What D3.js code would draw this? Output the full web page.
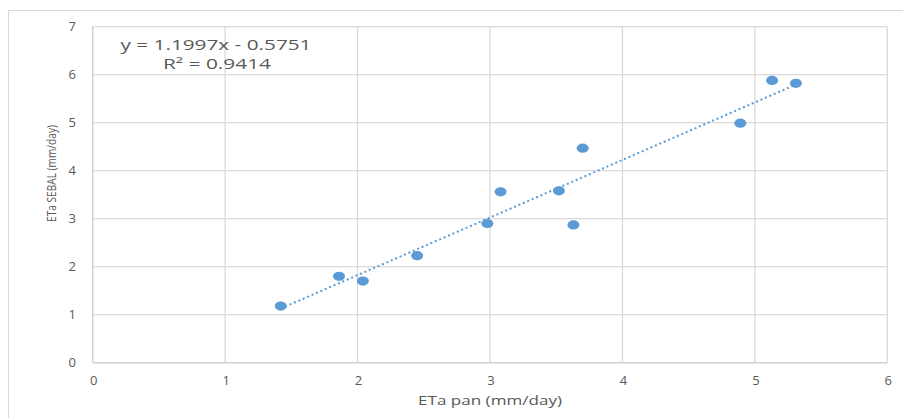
<!DOCTYPE html>
<html><head><meta charset="utf-8">
<script src="https://cdn.jsdelivr.net/npm/d3@7/dist/d3.min.js"></script>
<style>body{margin:0;background:#fff}svg{display:block}text{font-family:"Open Sans",sans-serif;fill:#595959}</style>
</head><body><svg id="c" width="903" height="418"></svg>
<script>
const etaPan   = [1.42, 1.86, 2.04, 2.45, 2.98, 3.08, 3.52, 3.63, 3.70, 4.89, 5.13, 5.31];
const etaSebal = [1.18, 1.80, 1.70, 2.23, 2.90, 3.56, 3.58, 2.87, 4.47, 4.99, 5.88, 5.82];
const xTicks = [0, 1, 2, 3, 4, 5, 6];
const yTicks = [0, 1, 2, 3, 4, 5, 6, 7];
const slope = 1.1997, intercept = -0.5751;
const eqLabel = "y = 1.1997x - 0.5751";
const r2Label = "R² = 0.9414";
const xTitle = "ETa pan (mm/day)";
const yTitle = "ETa SEBAL (mm/day)";

const svg = d3.select("#c");
svg.append("rect").attr("x",8.5).attr("y",10.5).attr("width",1000).attr("height",1000)
  .attr("fill","#fff").attr("stroke","#d9d9d9");

const x = d3.scaleLinear().domain([0,6]).range([92.7,887.3]);
const y = d3.scaleLinear().domain([0,7]).range([362.7,26.7]);

const g = svg.append("g");
g.selectAll("line.v").data(xTicks.slice(1)).join("line")
  .attr("x1",d=>x(d)).attr("x2",d=>x(d)).attr("y1",y(0)).attr("y2",y(7))
  .attr("stroke","#d9d9d9").attr("stroke-width",1.3);
g.selectAll("line.h").data(yTicks.slice(1)).join("line")
  .attr("x1",x(0)).attr("x2",x(6)).attr("y1",d=>y(d)).attr("y2",d=>y(d))
  .attr("stroke","#d9d9d9").attr("stroke-width",1.3);
g.append("line").attr("x1",x(0)).attr("x2",x(0)).attr("y1",y(0)).attr("y2",y(7)).attr("stroke","#cfcfcf").attr("stroke-width",1.5);
g.append("line").attr("x1",x(0)).attr("x2",x(6)).attr("y1",y(0)).attr("y2",y(0)).attr("stroke","#cfcfcf").attr("stroke-width",1.5);

svg.selectAll("text.xt").data(xTicks).join("text")
  .attr("x",d=>x(d)+1).attr("y",385).attr("text-anchor","middle").attr("font-size",13).text(d=>d);
svg.selectAll("text.yt").data(yTicks).join("text")
  .attr("x",76).attr("y",d=>y(d)+4.5).attr("text-anchor","end").attr("font-size",13).text(d=>d);

svg.append("text").attr("x",490).attr("y",405).attr("text-anchor","middle").attr("font-size",13)
  .attr("textLength",144).attr("lengthAdjust","spacingAndGlyphs").text(xTitle);
svg.append("text").attr("transform","translate(56,173.5) rotate(-90)").attr("text-anchor","middle")
  .attr("font-size",12.5).attr("textLength",97).attr("lengthAdjust","spacingAndGlyphs").text(yTitle);

const xmin = d3.min(etaPan), xmax = d3.max(etaPan);
svg.append("line").attr("x1",x(xmin)).attr("y1",y(slope*xmin+intercept))
  .attr("x2",x(xmax)).attr("y2",y(slope*xmax+intercept))
  .attr("stroke","#5B9BD5").attr("stroke-width",2).attr("stroke-dasharray","2,2.8");

svg.selectAll("ellipse").data(etaPan.map((v,i)=>[v,etaSebal[i]])).join("ellipse")
  .attr("cx",d=>x(d[0])).attr("cy",d=>y(d[1])).attr("rx",6).attr("ry",4.6).attr("fill","#5B9BD5");

svg.append("text").attr("x",216).attr("y",50).attr("text-anchor","middle").attr("font-size",14)
  .attr("textLength",191).attr("lengthAdjust","spacingAndGlyphs").text(eqLabel);
svg.append("text").attr("x",217).attr("y",69).attr("text-anchor","middle").attr("font-size",14)
  .attr("textLength",108).attr("lengthAdjust","spacingAndGlyphs").text(r2Label);
</script></body></html>
